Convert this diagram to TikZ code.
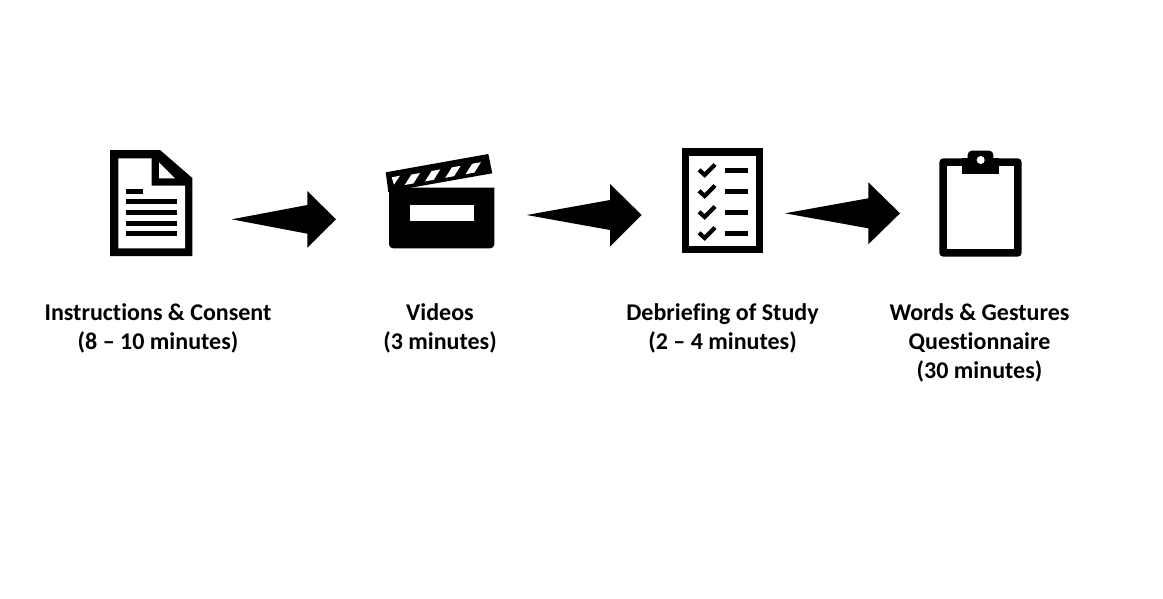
\documentclass[tikz,border=0pt]{standalone}
\usepackage{fontspec}
\setmainfont[Ligatures=NoCommon]{Carlito}
\tikzset{
  lbl/.style={align=center,font=\fontsize{24}{29}\selectfont\bfseries,inner sep=0pt,text=black},
  blockarrow/.style={fill=black,draw=none},
  ink/.style={fill=black,draw=none},
  paper/.style={fill=white,draw=none},
  tick/.style={draw=black,line width=4.2pt,miter limit=3,fill=none},
}
\begin{document}
\begin{tikzpicture}[x=1pt,y=-1pt]
\path[use as bounding box,fill=white] (0,0) rectangle (1163,598);
% document
\path[ink] (110,150) -- (160,150) -- (192.3,178) -- (192.3,256) -- (110,256) -- cycle;
\path[paper] (118.3,158.3) -- (151.7,158.3) -- (151.7,185.7) -- (185,185.7) -- (185,248.3) -- (118.3,248.3) -- cycle;
\path[paper] (159,162.3) -- (175,178.3) -- (159,178.3) -- cycle;
\path[ink] (126,189) rectangle (143.3,194);
\foreach \y in {199.3,210,220.7,231.3} \path[ink] (126,\y) rectangle (176.7,\y+5);
% arrow 1
\path[blockarrow] (231.7,219.3) -- (307.3,205) -- (307.3,191) -- (336,219.3) -- (307.3,247.7) -- (307.3,233.7) -- cycle;
% clapper
\path[ink] (389,187.7) -- (494.3,187.7) -- (494.3,244.3) [rounded corners=4pt] -- (494.3,248.3) -- (389,248.3) [sharp corners] -- (389,187.7) -- cycle;
\path[ink] (385.7,172.3) -- (488.3,154) -- (492.3,173.3) -- (388.3,191.7) -- cycle;
\path[ink] (388.3,188) rectangle (420,192);
\path[paper] (391.7,177.3) -- (400,175.7) -- (394,184.7) -- cycle;
\foreach \d in {0,1,2,3} \path[paper,shift={(\d*20.3,-\d*3.6)}] (404.7,185) -- (411.3,174.6) -- (420,173) -- (413.5,183.4) -- cycle;
\path[paper] (410,205) rectangle (473.7,220.7);
% arrow 2
\path[blockarrow] (526.7,215) -- (610,200) -- (610,184) -- (641.7,215) -- (610,246.7) -- (610,230) -- cycle;
% checklist
\path[ink] (681.7,148.3) rectangle (763.3,253.3);
\path[paper] (689.3,156) rectangle (756,245.7);
\foreach \y in {0,21,42,63} {
  \path[ink] (725,168+\y) rectangle (747.7,173.3+\y);
  \draw[tick] (699,169.8+\y) -- (704.7,175+\y) -- (715,164.5+\y);
}
% arrow 3
\path[blockarrow] (785,213.3) -- (868.3,198.3) -- (868.3,182.3) -- (900,213.3) -- (868.3,244.3) -- (868.3,228.3) -- cycle;
% clipboard
\path[ink,rounded corners=4pt] (939.3,158.3) rectangle (1021.7,256.7);
\path[paper] (947.3,166) rectangle (1014,249);
\path[ink] (962,166) rectangle (999.3,174.3);
\path[ink,rounded corners=4pt] (967.7,150.7) rectangle (993.3,170);
\path[ink] (962,158.3) rectangle (999.3,170);
\path[paper] (980.7,160) circle (4);
% labels
\node[lbl] (consent) at (158,328) {Instructions \& Consent\\(8 – 10 minutes)};
\node[lbl] (videos) at (440,328) {Videos\\(3 minutes)};
\node[lbl] (debrief) at (722.5,328) {Debriefing of Study\\(2 – 4 minutes)};
\node[lbl] (words) at (979.5,342.5) {Words \& Gestures\\Questionnaire\\(30 minutes)};
\end{tikzpicture}
\end{document}
